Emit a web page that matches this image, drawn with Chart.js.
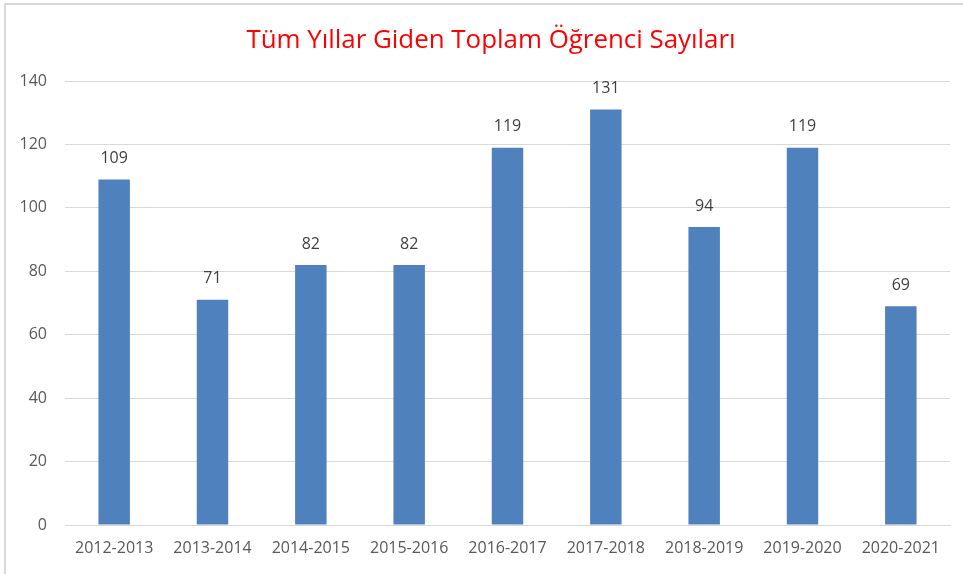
<!DOCTYPE html>
<html lang="tr">
<head>
  <meta charset="UTF-8">
  <title>Tüm Yıllar Giden Toplam Öğrenci Sayıları</title>
  <script src="https://cdn.jsdelivr.net/npm/chart.js"></script>
  <style>
    body {
      margin: 0;
      background: #ffffff;
      font-family: 'Open Sans', sans-serif;
      overflow: hidden;
    }

    .frame {
      position: absolute;
      left: 4px;
      top: 3px;
      width: 970px;
      height: 569px;
      border-left: 2px solid #d9d9d9;
      border-top: 2px solid #d9d9d9;
    }

    canvas {
      display: block;
    }
  </style>
</head>
<body>

  <div class="frame">
    <canvas id="gidenChart" width="970" height="569"></canvas>
  </div>

  <script>
    // yıllar ve giden öğrenci sayıları
    const years = ['2012-2013', '2013-2014', '2014-2015', '2015-2016', '2016-2017',
                   '2017-2018', '2018-2019', '2019-2020', '2020-2021'];
    const students = [109, 71, 82, 82, 119, 131, 94, 119, 69];
    const yTicks = [0, 20, 40, 60, 80, 100, 120, 140];

    // çubukların üstüne değer yaz
    const valueLabels = {
      id: 'valueLabels',
      afterDatasetsDraw(chart) {
        const ctx = chart.ctx;
        const meta = chart.getDatasetMeta(0);
        ctx.save();
        ctx.font = '16px "Open Sans"';
        ctx.fillStyle = '#404040';
        ctx.textAlign = 'center';
        ctx.textBaseline = 'middle';
        meta.data.forEach((bar, i) => {
          ctx.fillText(students[i], bar.x, bar.y - 21);
        });
        ctx.restore();
      }
    };

    new Chart(document.getElementById('gidenChart'), {
      type: 'bar',
      data: {
        labels: years,
        datasets: [{
          label: 'Giden Öğrenci',
          data: students,
          backgroundColor: '#4f81bd',
          categoryPercentage: 1,
          barPercentage: 0.32
        }]
      },
      options: {
        responsive: false,
        animation: false,
        layout: {
          padding: 0
        },
        plugins: {
          legend: { display: false },
          tooltip: { enabled: false },
          title: {
            display: true,
            text: 'Tüm Yıllar Giden Toplam Öğrenci Sayıları',
            color: '#ff0000',
            font: { family: 'Open Sans', size: 25.9, weight: 'normal', lineHeight: 1.2 },
            padding: { top: 20, bottom: 25 }
          }
        },
        scales: {
          x: {
            grid: { display: false, drawTicks: false },
            border: { color: '#d9d9d9', width: 1 },
            ticks: {
              color: '#595959',
              font: { family: 'Open Sans', size: 16 },
              padding: 14,
              maxRotation: 0
            },
            afterFit(scale) { scale.height = 49; }
          },
          y: {
            min: 0,
            max: 140,
            afterBuildTicks(scale) {
              scale.ticks = yTicks.map(v => ({ value: v }));
            },
            grid: { color: '#d9d9d9', drawTicks: false },
            border: { display: false },
            ticks: {
              color: '#595959',
              font: { family: 'Open Sans', size: 16 },
              padding: 18
            },
            afterFit(scale) { scale.width = 59; }
          },
          // sağda boş alan
          yRight: {
            position: 'right',
            min: 0,
            max: 140,
            grid: { display: false, drawTicks: false },
            border: { display: false },
            ticks: { display: false },
            afterFit(scale) { scale.width = 26; }
          }
        }
      },
      plugins: [valueLabels]
    });
  </script>

</body>
</html>
